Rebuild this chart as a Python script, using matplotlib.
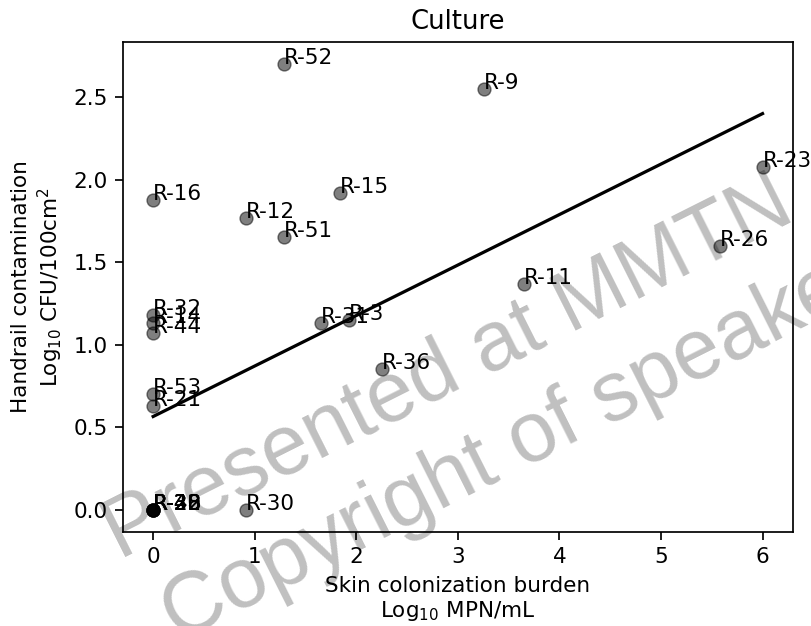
import matplotlib
matplotlib.use("Agg")
import matplotlib.pyplot as plt
import numpy as np

# Data
labels = ["R-52", "R-9", "R-23", "R-16", "R-12", "R-15", "R-51", "R-26", "R-11",
          "R-32", "R-14", "R-44", "R-31", "R-3", "R-36", "R-53", "R-21", "R-30",
          "R-22", "R-28", "R-33", "R-38", "R-40", "R-48"]
skin = [1.29, 3.26, 6.00, 0.00, 0.91, 1.84, 1.29, 5.58, 3.65,
        0.00, 0.00, 0.00, 1.65, 1.93, 2.25, 0.00, 0.00, 0.91,
        0.00, 0.00, 0.00, 0.00, 0.00, 0.00]
handrail = [2.70, 2.55, 2.08, 1.88, 1.77, 1.92, 1.65, 1.60, 1.37,
            1.18, 1.13, 1.07, 1.13, 1.15, 0.85, 0.70, 0.63, 0.00,
            0.00, 0.00, 0.00, 0.00, 0.00, 0.00]
fit_intercept = 0.565
fit_slope = 0.306

S = 1.55  # font scale
fig = plt.figure(figsize=(8.11, 6.26), dpi=100)
ax = fig.add_axes([0.1513, 0.1502, 0.8265, 0.7827])

ax.scatter(skin, handrail, s=36 * S * S, color="k", alpha=0.5)
for lab, x, y in zip(labels, skin, handrail):
    ax.text(x, y, lab, fontsize=10 * S)

xs = np.array([min(skin), max(skin)])
ax.plot(xs, fit_intercept + fit_slope * xs, color="k", lw=1.5 * S)

ax.set_title("Culture", fontsize=12 * S, pad=6 * S)
ax.set_xlabel("Skin colonization burden\nLog$_{10}$ MPN/mL", fontsize=10 * S, labelpad=4 * S)
ax.set_ylabel("Handrail contamination\nLog$_{10}$ CFU/100cm$^2$", fontsize=10 * S, labelpad=4 * S)
ax.tick_params(labelsize=10 * S, width=0.8 * S, length=3.5 * S, pad=3.5 * S)
for sp in ax.spines.values():
    sp.set_linewidth(0.8 * S)
ax.set_yticks([0.0, 0.5, 1.0, 1.5, 2.0, 2.5])

W, H = 811, 626
wm = dict(fontsize=61, family="Liberation Sans", color="k", alpha=0.25,
          rotation=26.7, rotation_mode="anchor", ha="left", va="baseline", zorder=10)
fig.text(120 / W, 1 - 560 / H, "Presented at MMTN", **wm)
fig.text(178 / W, 1 - 642 / H, "Copyright of speaker", **wm)

fig.savefig("out.png", dpi=100)
